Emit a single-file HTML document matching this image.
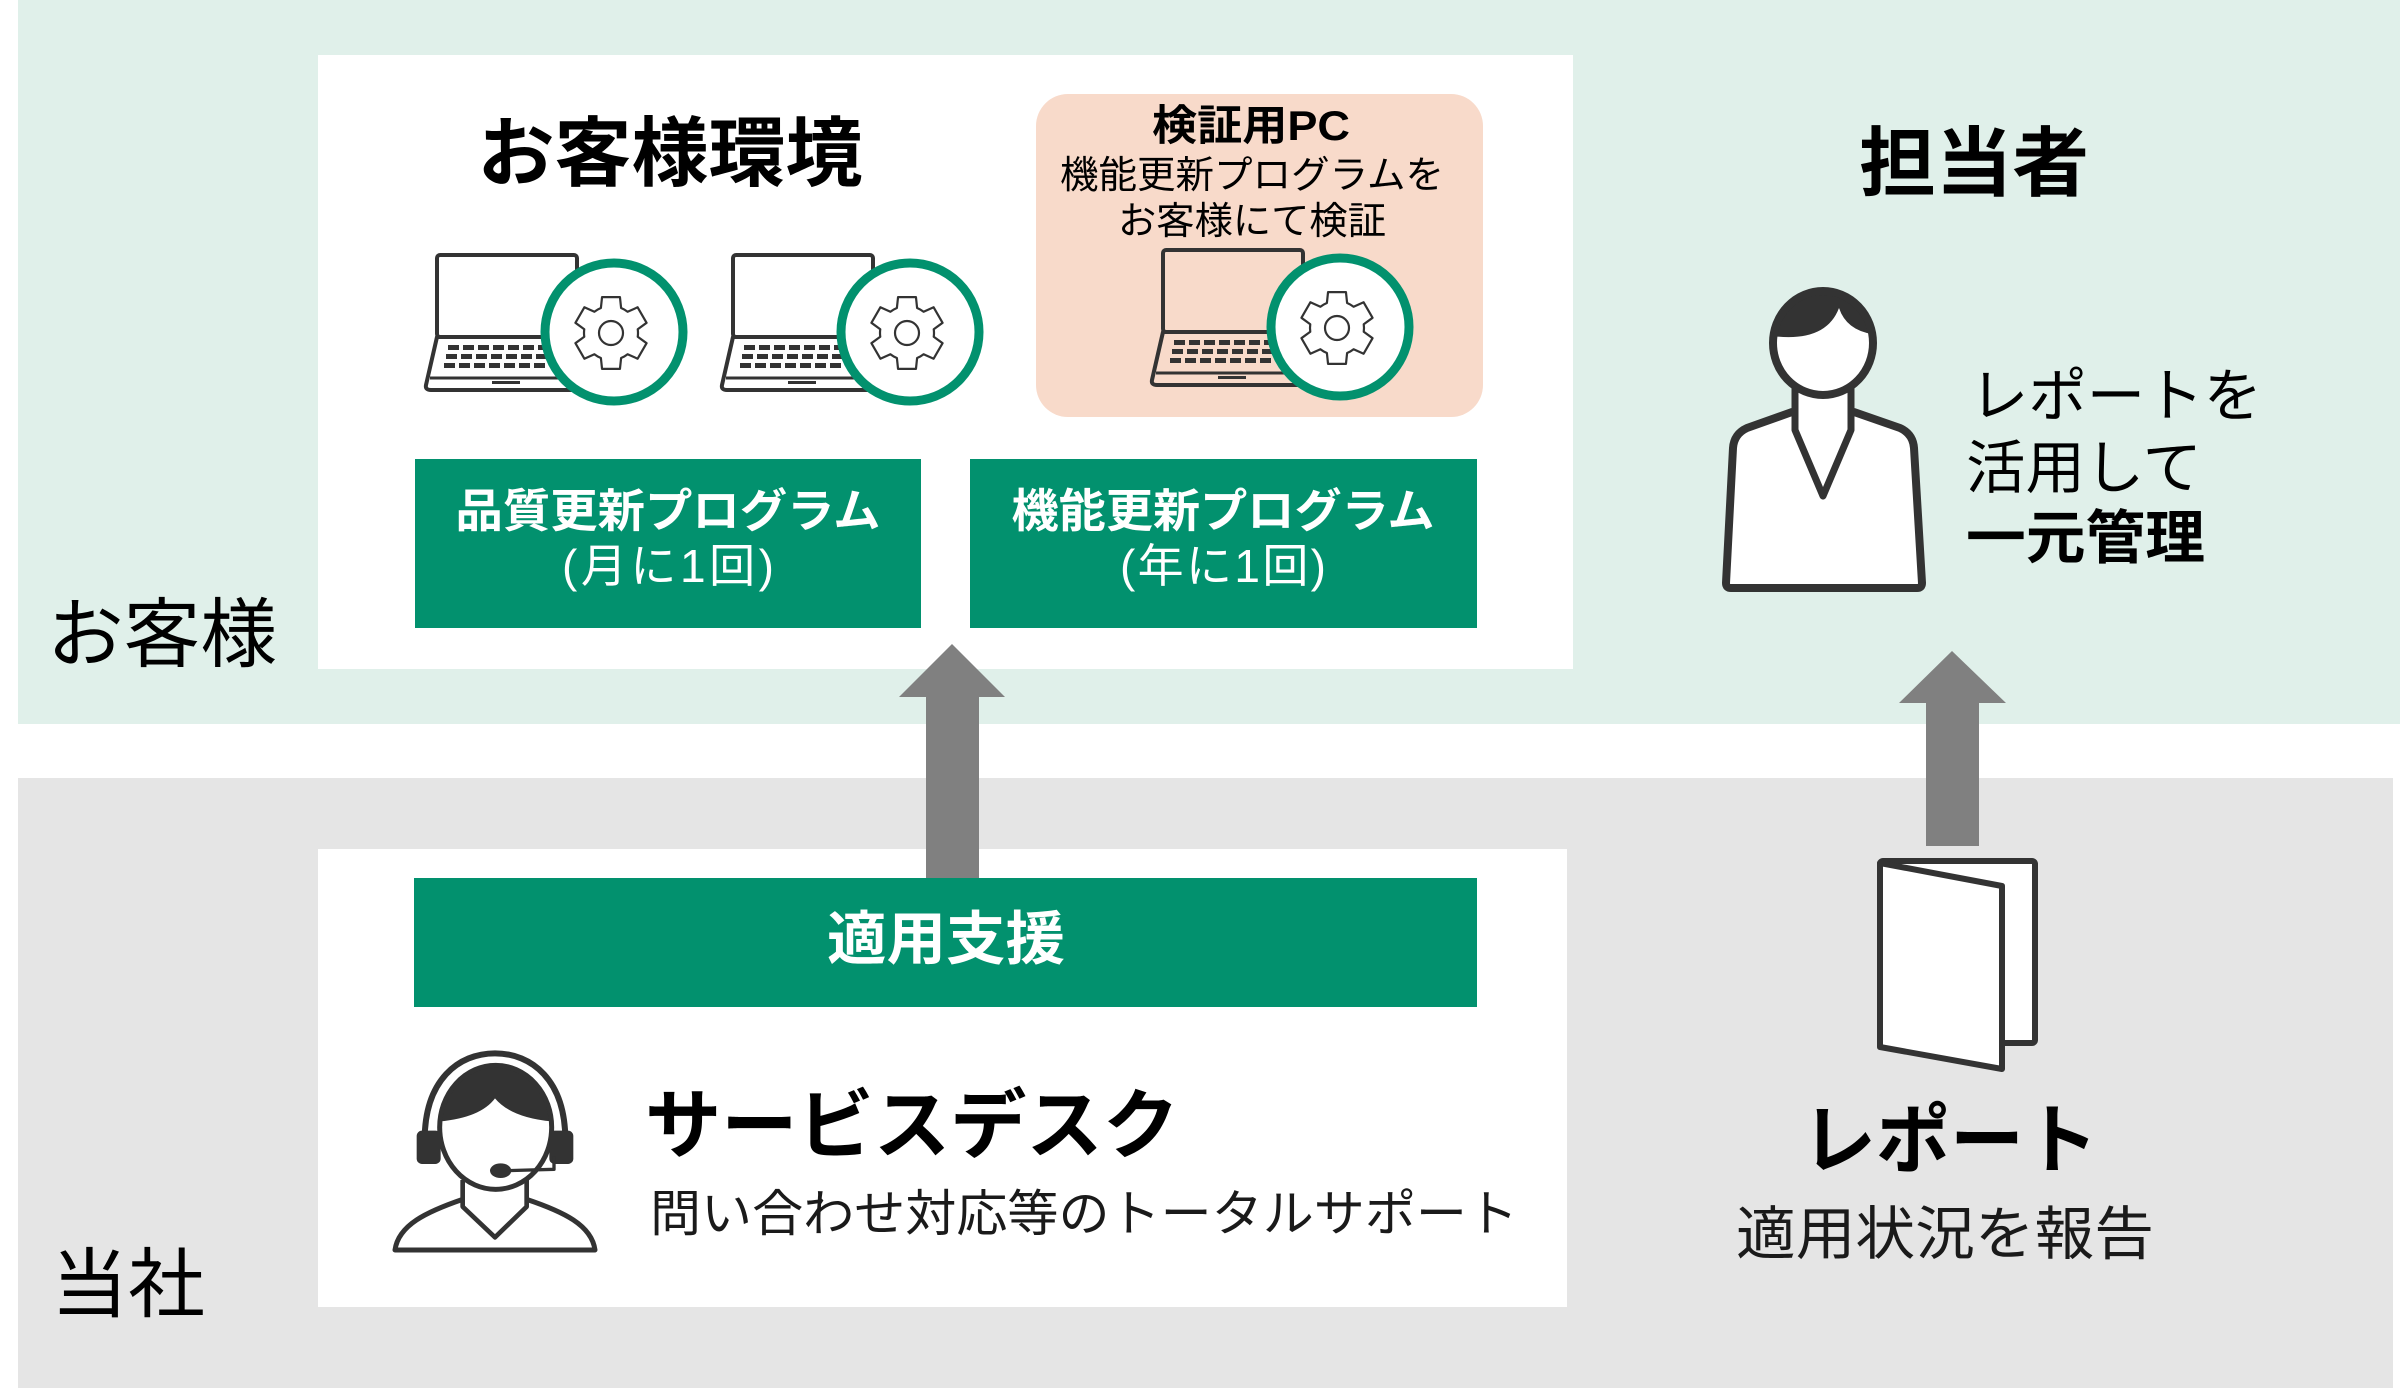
<!DOCTYPE html>
<html>
<head>
<meta charset="utf-8">
<style>
html,body{margin:0;padding:0;background:#fff;}
svg{display:block;}
text{font-family:"Liberation Sans","Noto Sans CJK JP",sans-serif;}
</style>
</head>
<body>
<svg width="2400" height="1388" viewBox="0 0 2400 1388" xmlns="http://www.w3.org/2000/svg">
<defs>
  <clipPath id="hsClip"><ellipse cx="347" cy="262" rx="168" ry="186"/></clipPath>
  <clipPath id="pClip"><ellipse cx="1823" cy="343" rx="50" ry="52"/></clipPath>
  <path id="gear" d="M -10.11 -25.03 L -8.95 -35.9 L 8.95 -35.9 L 10.11 -25.03 A 27 27 0 0 1 16.62 -21.28 L 26.62 -25.7 L 35.57 -10.2 L 26.74 -3.76 A 27 27 0 0 1 26.74 3.76 L 35.57 10.2 L 26.62 25.7 L 16.62 21.28 A 27 27 0 0 1 10.11 25.03 L 8.95 35.9 L -8.95 35.9 L -10.11 25.03 A 27 27 0 0 1 -16.62 21.28 L -26.62 25.7 L -35.57 10.2 L -26.74 3.76 A 27 27 0 0 1 -26.74 -3.76 L -35.57 -10.2 L -26.62 -25.7 L -16.62 -21.28 A 27 27 0 0 1 -10.11 -25.03 Z"/>
  <g id="lp">
    <!-- laptop -->
    <rect x="437" y="255" width="140" height="82" rx="3" fill="none" stroke="#333" stroke-width="4"/>
    <path d="M 437 337 L 426 385 Q 425 390 431 390 L 600 390 L 600 337 Z" fill="none" stroke="#333" stroke-width="4" stroke-linejoin="round"/>
    <line x1="430" y1="378" x2="600" y2="378" stroke="#333" stroke-width="3"/>
    <rect x="492" y="381" width="28" height="3" fill="#333"/>
    <g fill="#333">
      <rect x="448" y="345" width="11" height="5"/><rect x="463" y="345" width="11" height="5"/><rect x="478" y="345" width="11" height="5"/><rect x="493" y="345" width="11" height="5"/><rect x="508" y="345" width="11" height="5"/><rect x="523" y="345" width="11" height="5"/><rect x="538" y="345" width="11" height="5"/>
      <rect x="446" y="354" width="11" height="5"/><rect x="461" y="354" width="11" height="5"/><rect x="476" y="354" width="11" height="5"/><rect x="491" y="354" width="11" height="5"/><rect x="506" y="354" width="11" height="5"/><rect x="521" y="354" width="11" height="5"/><rect x="536" y="354" width="11" height="5"/>
      <rect x="444" y="363" width="11" height="5"/><rect x="459" y="363" width="11" height="5"/><rect x="474" y="363" width="11" height="5"/><rect x="489" y="363" width="11" height="5"/><rect x="504" y="363" width="11" height="5"/><rect x="519" y="363" width="11" height="5"/><rect x="534" y="363" width="11" height="5"/>
    </g>
    <!-- gear circle -->
    <circle cx="614" cy="332" r="69" fill="#fff" stroke="#02916E" stroke-width="9"/>
    <g transform="translate(611 333)">
      <use href="#gear" fill="#fff" stroke="#333" stroke-width="2.2" stroke-linejoin="round"/>
      <circle cx="0" cy="0" r="12" fill="#fff" stroke="#333" stroke-width="2.2"/>
    </g>
  </g>
</defs>

<!-- bands -->
<rect x="18" y="0" width="2382" height="724" fill="#E0F0EA"/>
<rect x="18" y="778" width="2375" height="610" fill="#E5E5E5"/>

<!-- white boxes -->
<rect x="318" y="55" width="1255" height="614" fill="#fff"/>
<rect x="318" y="849" width="1249" height="458" fill="#fff"/>

<!-- pink box -->
<rect x="1036" y="94" width="447" height="323" rx="32" fill="#F8DACA"/>

<!-- laptops -->
<use href="#lp"/>
<use href="#lp" transform="translate(296 0)"/>
<use href="#lp" transform="translate(726 -5)"/>

<!-- arrows -->
<polygon points="952,644 1005,697 979,697 979,880 926,880 926,697 899,697" fill="#808080"/>
<polygon points="1952,651 2006,703 1979,703 1979,846 1926,846 1926,703 1899,703" fill="#808080"/>

<!-- green boxes -->
<rect x="415" y="459" width="506" height="169" fill="#02916E"/>
<rect x="970" y="459" width="507" height="169" fill="#02916E"/>
<rect x="414" y="878" width="1063" height="129" fill="#02916E"/>

<!-- texts: customer environment -->
<text x="670" y="180" font-size="76" font-weight="bold" text-anchor="middle" fill="#000" textLength="385" lengthAdjust="spacingAndGlyphs">お客様環境</text>
<text x="1251" y="140" font-size="42" font-weight="bold" text-anchor="middle" fill="#000" textLength="198" lengthAdjust="spacingAndGlyphs">検証用PC</text>
<text x="1252" y="188" font-size="38" text-anchor="middle" fill="#000" textLength="384" lengthAdjust="spacingAndGlyphs">機能更新プログラムを</text>
<text x="1252" y="234" font-size="38" text-anchor="middle" fill="#000" textLength="268" lengthAdjust="spacingAndGlyphs">お客様にて検証</text>

<text x="668" y="527" font-size="46" font-weight="bold" text-anchor="middle" fill="#fff" textLength="425" lengthAdjust="spacingAndGlyphs">品質更新プログラム</text>
<text x="668" y="582" font-size="46" text-anchor="middle" fill="#fff" textLength="212" lengthAdjust="spacing">(月に1回)</text>
<text x="1223" y="527" font-size="46" font-weight="bold" text-anchor="middle" fill="#fff" textLength="423" lengthAdjust="spacingAndGlyphs">機能更新プログラム</text>
<text x="1223" y="582" font-size="46" text-anchor="middle" fill="#fff" textLength="206" lengthAdjust="spacing">(年に1回)</text>

<text x="946" y="959" font-size="58" font-weight="bold" text-anchor="middle" fill="#fff" textLength="238" lengthAdjust="spacingAndGlyphs">適用支援</text>

<text x="645" y="1152" font-size="76" font-weight="bold" fill="#000" textLength="534" lengthAdjust="spacingAndGlyphs">サービスデスク</text>
<text x="650" y="1231" font-size="50" fill="#1a1a1a" textLength="868" lengthAdjust="spacingAndGlyphs">問い合わせ対応等のトータルサポート</text>

<!-- side labels -->
<text x="47" y="661" font-size="76" fill="#000" textLength="230" lengthAdjust="spacingAndGlyphs">お客様</text>
<text x="51" y="1311" font-size="76" fill="#000" textLength="154" lengthAdjust="spacingAndGlyphs">当社</text>

<!-- right side -->
<text x="1974" y="190" font-size="76" font-weight="bold" text-anchor="middle" fill="#000" textLength="230" lengthAdjust="spacingAndGlyphs">担当者</text>
<text x="1970" y="416" font-size="58" fill="#000" textLength="292" lengthAdjust="spacingAndGlyphs">レポートを</text>
<text x="1966" y="488" font-size="58" fill="#000" textLength="236" lengthAdjust="spacingAndGlyphs">活用して</text>
<text x="1966" y="558" font-size="58" font-weight="bold" fill="#000" textLength="239" lengthAdjust="spacingAndGlyphs">一元管理</text>

<text x="1950" y="1167" font-size="76" font-weight="bold" text-anchor="middle" fill="#000" textLength="296" lengthAdjust="spacingAndGlyphs">レポート</text>
<text x="1945" y="1254" font-size="58" text-anchor="middle" fill="#1a1a1a" textLength="418" lengthAdjust="spacingAndGlyphs">適用状況を報告</text>

<!-- person icon -->
<g stroke="#333" stroke-linejoin="round">
  <path d="M 1792 412 L 1747 428 Q 1734 434 1733 448 L 1726 583 Q 1726 588 1731 588 L 1917 588 Q 1922 588 1922 583 L 1914 448 Q 1913 434 1900 428 L 1854 412 Z" fill="#fff" stroke-width="8"/>
  <path d="M 1795 378 L 1795 430 L 1823 496 L 1851 430 L 1851 378" fill="#fff" stroke-width="7"/>
  <ellipse cx="1823" cy="343" rx="50" ry="52" fill="#fff" stroke="none"/>
  <path d="M 1765 335 Q 1825 345 1839 308 Q 1848 335 1885 335 L 1885 280 L 1765 280 Z" fill="#333" stroke="none" clip-path="url(#pClip)"/>
  <ellipse cx="1823" cy="343" rx="50" ry="52" fill="none" stroke-width="8"/>
</g>

<!-- report icon -->
<g stroke="#333" stroke-width="6" stroke-linejoin="round" fill="#fff">
  <rect x="1880" y="861" width="155" height="182" rx="3"/>
  <polygon points="1880,863 2002,886 2002,1069 1880,1047"/>
</g>

<!-- headset icon -->
<g transform="translate(380 1040) scale(0.33333)" stroke="#333" stroke-linejoin="round">
  <path d="M 45 630 C 55 555 140 515 248 478 L 440 478 C 550 515 635 555 645 630 Z" fill="#fff" stroke-width="15"/>
  <path d="M 248 420 L 248 500 L 345 592 L 440 500 L 440 420" fill="#fff" stroke-width="14"/>
  <path d="M 134 300 C 134 120 235 40 345 40 C 455 40 556 120 556 300" fill="none" stroke-width="18"/>
  <ellipse cx="347" cy="262" rx="168" ry="186" fill="#fff" stroke="none"/>
  <path d="M 170 245 Q 300 235 345 175 Q 395 235 525 245 L 525 60 L 170 60 Z" fill="#333" stroke="none" clip-path="url(#hsClip)"/>
  <ellipse cx="347" cy="262" rx="168" ry="186" fill="none" stroke-width="15"/>
  <rect x="110" y="272" width="72" height="100" rx="16" fill="#333" stroke="none"/>
  <rect x="508" y="272" width="72" height="100" rx="16" fill="#333" stroke="none"/>
  <path d="M 380 392 L 522 388 L 522 350" fill="none" stroke-width="10"/>
  <ellipse cx="362" cy="392" rx="32" ry="22" fill="#333" stroke="none"/>
</g>
</svg>
</body>
</html>
